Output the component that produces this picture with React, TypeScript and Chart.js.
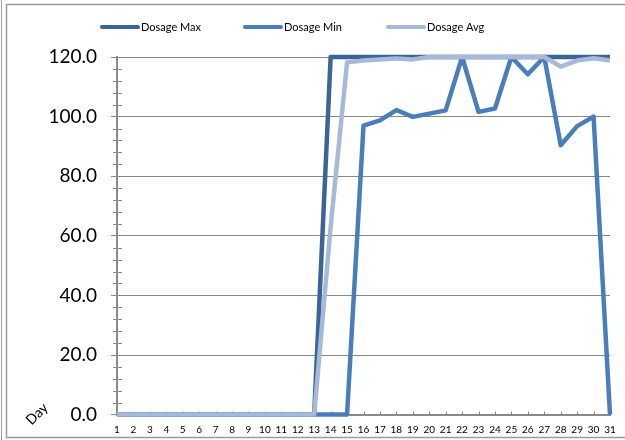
import React, { useEffect, useRef } from "react";
import { Chart, registerables } from "chart.js";

Chart.register(...registerables);

const days = ["1","2","3","4","5","6","7","8","9","10","11","12","13","14","15","16","17","18","19","20","21","22","23","24","25","26","27","28","29","30","31"];
const dosageMax = [0,0,0,0,0,0,0,0,0,0,0,0,0,120,120,120,120,120,120,120,120,120,120,120,120,120,120,120,120,120,120];
const dosageMin = [0,0,0,0,0,0,0,0,0,0,0,0,0,0,0,97,98.7,102.2,99.9,101,102.1,120,101.6,102.7,120,114.2,120,90.4,96.8,100,0];
const dosageAvg = [0,0,0,0,0,0,0,0,0,0,0,0,0,63,118.2,118.8,119.2,119.5,119.2,120,120,120,120,120,120,120,120,116.8,118.8,119.6,118.8];
const seriesNames = ["Dosage Max", "Dosage Min", "Dosage Avg"];
const seriesColors = ["#3b6597", "#4a7ebb", "#a6b9d9"];
const xAxisTitle = "Day";

const FONT = "Lato, 'Open Sans', sans-serif";
const GRID = "#8a8a8a";

const framePlugin = {
  id: "frame",
  beforeDraw(chart: any) {
    const ctx = chart.ctx;
    ctx.save();
    ctx.fillStyle = "#ffffff";
    ctx.fillRect(0, 0, chart.width, chart.height);
    ctx.strokeStyle = "#a0a0a0";
    ctx.lineWidth = 1;
    ctx.beginPath();
    ctx.moveTo(1.5, 0);
    ctx.lineTo(1.5, chart.height);
    ctx.stroke();
    ctx.strokeStyle = "#9a9a9a";
    ctx.lineWidth = 1.5;
    ctx.beginPath();
    ctx.moveTo(chart.width + 2, 4.5);
    ctx.lineTo(6.5, 4.5);
    ctx.lineTo(6.5, 437.5);
    ctx.lineTo(chart.width + 2, 437.5);
    ctx.stroke();
    ctx.restore();
  },
  beforeDatasetsDraw(chart: any) {
    const ctx = chart.ctx;
    const y = chart.scales.y;
    const x = chart.scales.x;
    ctx.save();
    ctx.strokeStyle = GRID;
    ctx.lineWidth = 1;
    for (let v = 0; v <= 120; v += 4) {
      if (v % 20 === 0) continue;
      const py = Math.round(y.getPixelForValue(v)) + 0.5;
      ctx.beginPath();
      ctx.moveTo(x.left - 4, py);
      ctx.lineTo(x.left + 5, py);
      ctx.stroke();
    }
    for (let i = 0; i < days.length; i++) {
      const px = Math.round(x.getPixelForValue(i)) + 0.5;
      ctx.beginPath();
      ctx.moveTo(px, y.bottom - 3);
      ctx.lineTo(px, y.bottom + 1);
      ctx.stroke();
    }
    ctx.restore();
  },
  afterDraw(chart: any) {
    const ctx = chart.ctx;
    ctx.save();
    const starts = [100, 243, 386];
    ctx.font = `11px ${FONT}`;
    ctx.textBaseline = "middle";
    ctx.textAlign = "left";
    seriesNames.forEach((name, i) => {
      const sx = starts[i];
      ctx.strokeStyle = seriesColors[i];
      ctx.lineWidth = 4;
      ctx.lineCap = "round";
      ctx.beginPath();
      ctx.moveTo(sx + 2, 27);
      ctx.lineTo(sx + 38, 27);
      ctx.stroke();
      ctx.fillStyle = "#000000";
      ctx.fillText(name, sx + 41, 27);
    });
    ctx.translate(37, 414);
    ctx.rotate(-Math.PI / 4);
    ctx.font = `14px ${FONT}`;
    ctx.fillStyle = "#000";
    ctx.textAlign = "center";
    ctx.fillText(xAxisTitle, 0, 0);
    ctx.restore();
  },
};

export default function App() {
  const ref = useRef<HTMLCanvasElement>(null);
  useEffect(() => {
    if (!ref.current) return;
    const chart = new Chart(ref.current, {
      type: "line",
      data: {
        labels: days,
        datasets: [
          { label: seriesNames[0], data: dosageMax, borderColor: seriesColors[0], backgroundColor: seriesColors[0], order: 3 },
          { label: seriesNames[1], data: dosageMin, borderColor: seriesColors[1], backgroundColor: seriesColors[1], order: 2 },
          { label: seriesNames[2], data: dosageAvg, borderColor: seriesColors[2], backgroundColor: seriesColors[2], order: 1 },
        ].map((d) => ({ ...d, borderWidth: 4.5, pointRadius: 0, tension: 0, clip: false as any, borderJoinStyle: "round" as const })),
      },
      options: {
        responsive: false,
        animation: false,
        layout: { padding: { top: 57, right: 15, left: 0, bottom: 0 } },
        plugins: { legend: { display: false }, tooltip: { enabled: false }, title: { display: false } },
        scales: {
          x: {
            offset: false,
            afterFit: (s: any) => { s.height = 20.6; },
            grid: { display: true, drawOnChartArea: false, drawTicks: false, color: GRID },
            border: { display: true, color: GRID, width: 2 },
            ticks: { autoSkip: false, maxRotation: 0, padding: 9, color: "#000", font: { family: FONT, size: 10 } },
          },
          y: {
            min: 0,
            max: 120,
            afterFit: (s: any) => { s.width = 117; },
            grid: { color: GRID, lineWidth: 1, drawTicks: true, tickLength: 6 },
            border: { display: true, color: GRID, width: 2 },
            ticks: { stepSize: 20, padding: 14, color: "#000", font: { family: FONT, size: 19 }, callback: (v: any) => Number(v).toFixed(1) },
          },
        },
      },
      plugins: [framePlugin],
    });
    return () => chart.destroy();
  }, []);
  return (
    <div style={{ position: "absolute", left: 0, top: 0, width: 625, height: 440 }}>
      <canvas ref={ref} width={625} height={440} style={{ width: 625, height: 440 }} />
    </div>
  );
}
